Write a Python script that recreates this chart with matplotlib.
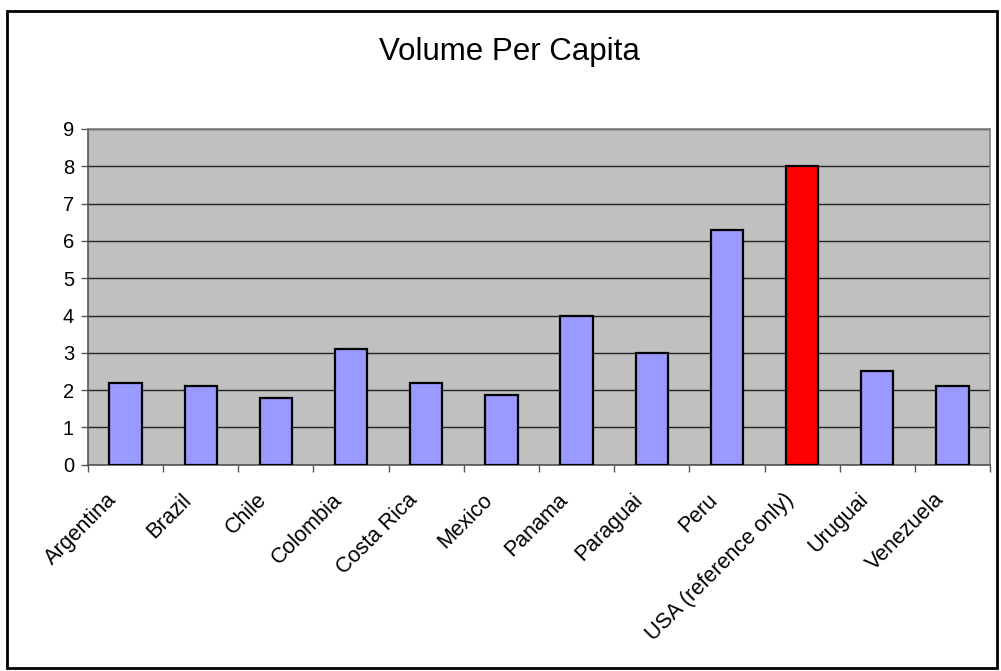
import numpy as np
import matplotlib
matplotlib.use("Agg")
import matplotlib.pyplot as plt
from matplotlib.patches import Rectangle
from matplotlib.ticker import FixedLocator, NullFormatter
from matplotlib.transforms import ScaledTranslation

# ── Data ────────────────────────────────────────────────
countries = ["Argentina", "Brazil", "Chile", "Colombia", "Costa Rica", "Mexico",
             "Panama", "Paraguai", "Peru", "USA (reference only)", "Uruguai", "Venezuela"]
volume = [2.2, 2.1, 1.8, 3.1, 2.2, 1.87, 4.0, 3.0, 6.3, 8.0, 2.5, 2.1]
highlight = "USA (reference only)"

BLUE = "#9999FF"
RED = "#FF0000"
BG = "#C0C0C0"

plt.rcParams["font.family"] = ["Liberation Sans", "DejaVu Sans"]

fig = plt.figure(figsize=(10.01, 6.71), dpi=100)
ax = fig.add_axes([88 / 1001, 1 - 464.7 / 671, 902 / 1001, 335.7 / 671])

x = np.arange(len(countries))
colors = [RED if c == highlight else BLUE for c in countries]
ax.bar(x, volume, width=0.43, color=colors, edgecolor="black", linewidth=1.6, zorder=3)

ax.set_facecolor(BG)
ax.set_xlim(-0.5, len(countries) - 0.5)
ax.set_ylim(0, 9)
ax.set_yticks(range(10))
ax.yaxis.grid(True, color="#222222", linewidth=1.0, zorder=1)
ax.tick_params(axis="y", length=5, width=1, color="#555555", labelsize=14.5, pad=5)

# category labels at centers, tick marks at boundaries
ax.set_xticks(x)
ax.set_xticklabels(countries, rotation=45, ha="right", va="center",
                   rotation_mode="anchor", fontsize=15.5)
ax.tick_params(axis="x", which="major", length=0, pad=23)
shift = ScaledTranslation(-12 / 100, 0, fig.dpi_scale_trans)
for lbl in ax.get_xticklabels():
    lbl.set_transform(lbl.get_transform() + shift)
ax.xaxis.set_minor_locator(FixedLocator(np.arange(-0.5, len(countries), 1)))
ax.xaxis.set_minor_formatter(NullFormatter())
ax.tick_params(axis="x", which="minor", length=5, width=1, color="#555555")

for side in ["left", "bottom"]:
    ax.spines[side].set_color("#555555")
    ax.spines[side].set_linewidth(1.2)
for side in ["top", "right"]:
    ax.spines[side].set_color("#808080")
    ax.spines[side].set_linewidth(1.2)

fig.text(509 / 1001, 1 - 52 / 671, "Volume Per Capita", ha="center", va="center", fontsize=22.5)

# outer chart frame
fig.patches.append(Rectangle((7 / 1001, 3 / 671), 990 / 1001, 657 / 671,
                             transform=fig.transFigure, fill=False,
                             edgecolor="black", linewidth=2))

fig.savefig("out.png", dpi=100, facecolor="white")
